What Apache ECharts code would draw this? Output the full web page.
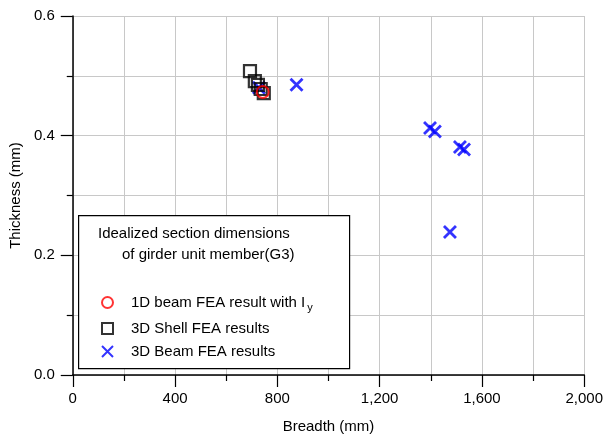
<!DOCTYPE html>
<html><head><meta charset="utf-8">
<script src="https://cdn.jsdelivr.net/npm/echarts@6/dist/echarts.min.js"></script>
<style>html,body{margin:0;padding:0;background:#fff}#c{width:606px;height:439px}</style>
</head><body><div id="c"></div>
<script>
const FONT = '"Liberation Sans Narrow","Arial Narrow","Liberation Sans",sans-serif';
const seriesNames = ['1D beam FEA result with Iy', '3D Shell FEA results', '3D Beam FEA results'];
const beam1D = [[743, 0.473]];
const shell3D = [[693, 0.508], [712, 0.491], [724, 0.485], [735, 0.478], [747, 0.471]];
const beam3D = [[875, 0.485], [728, 0.48], [1397, 0.413], [1416, 0.407], [1514, 0.381], [1530, 0.377], [1475, 0.239]];
const xTicks = [0, 400, 800, 1200, 1600, 2000];
const yTicks = [0.0, 0.2, 0.4, 0.6];
const legendTitle = ['Idealized section dimensions', 'of girder unit member(G3)'];

const chart = echarts.init(document.getElementById('c'), null, {renderer: 'canvas'});
const crossPath = 'path://M0,0L10,10M10,0L0,10';
const grey = '#c8c8c8';
const axisCommon = {
  axisLine: {show: true, onZero: false, lineStyle: {color: '#000', width: 1.5}},
  axisTick: {show: true, inside: false, length: 12, lineStyle: {color: '#000', width: 1.2}},
  minorTick: {show: true, splitNumber: 2, length: 6, lineStyle: {color: '#000', width: 1.2}},
  splitLine: {show: true, lineStyle: {color: grey, width: 1}},
  minorSplitLine: {show: true, lineStyle: {color: grey, width: 1}},
  nameTextStyle: {fontFamily: FONT, fontSize: 15, color: '#000'},
  axisLabel: {fontFamily: FONT, fontSize: 15, color: '#000'}
};
chart.setOption({
  backgroundColor: '#fff',
  animation: false,
  textStyle: {fontFamily: FONT},
  grid: {left: 71, right: 21, top: 16, bottom: 64, containLabel: false},
  xAxis: Object.assign({}, axisCommon, {
    type: 'value', min: xTicks[0], max: xTicks[xTicks.length - 1], interval: 400,
    name: 'Breadth (mm)', nameLocation: 'middle', nameGap: 44,
    axisLabel: Object.assign({}, axisCommon.axisLabel, {margin: 16,
      formatter: v => xTicks.includes(v) ? v.toLocaleString('en-US') : ''})
  }),
  yAxis: Object.assign({}, axisCommon, {
    type: 'value', min: yTicks[0], max: yTicks[yTicks.length - 1], interval: 0.2,
    name: 'Thickness (mm)', nameLocation: 'middle', nameGap: 44,
    axisLabel: Object.assign({}, axisCommon.axisLabel, {margin: 18,
      formatter: v => v.toFixed(1)})
  }),
  legend: {
    orient: 'vertical', left: 96, top: 290, itemWidth: 11, itemHeight: 11, itemGap: 8, z: 20,
    data: seriesNames,
    formatter: n => n === seriesNames[0] ? '{a|1D beam FEA result with I}{s|y}' : '{a|' + n + '}',
    textStyle: {fontFamily: FONT, fontSize: 15, color: '#000', padding: [0, 0, 0, 13],
      rich: {a: {fontFamily: FONT, fontSize: 15, color: '#000'},
             s: {fontFamily: FONT, fontSize: 11, color: '#000', verticalAlign: 'bottom', padding: [10, 0, 0, 2]}}}
  },
  graphic: [
    {type: 'rect', left: 78, top: 215, z: 8, shape: {width: 271, height: 153},
      style: {fill: '#fff', stroke: '#000', lineWidth: 1.2}},
    {type: 'text', left: 98, top: 226, z: 11, style: {text: legendTitle[0], font: '15px ' + FONT, fill: '#000'}},
    {type: 'text', left: 122, top: 247, z: 11, style: {text: legendTitle[1], font: '15px ' + FONT, fill: '#000'}}
  ],
  series: [
    {name: seriesNames[0], type: 'scatter', data: beam1D, symbol: 'circle', symbolSize: 12, z: 5,
      itemStyle: {color: 'transparent', borderColor: '#f00', borderWidth: 2}},
    {name: seriesNames[1], type: 'scatter', data: shell3D, symbol: 'rect', symbolSize: 12, z: 4,
      itemStyle: {color: 'transparent', borderColor: '#000', borderWidth: 2.2}},
    {name: seriesNames[2], type: 'scatter', data: beam3D, symbol: crossPath, symbolSize: 12, z: 3,
      itemStyle: {color: 'transparent', borderColor: '#0000ff', borderWidth: 2.8}}
  ]
});
</script></body></html>
